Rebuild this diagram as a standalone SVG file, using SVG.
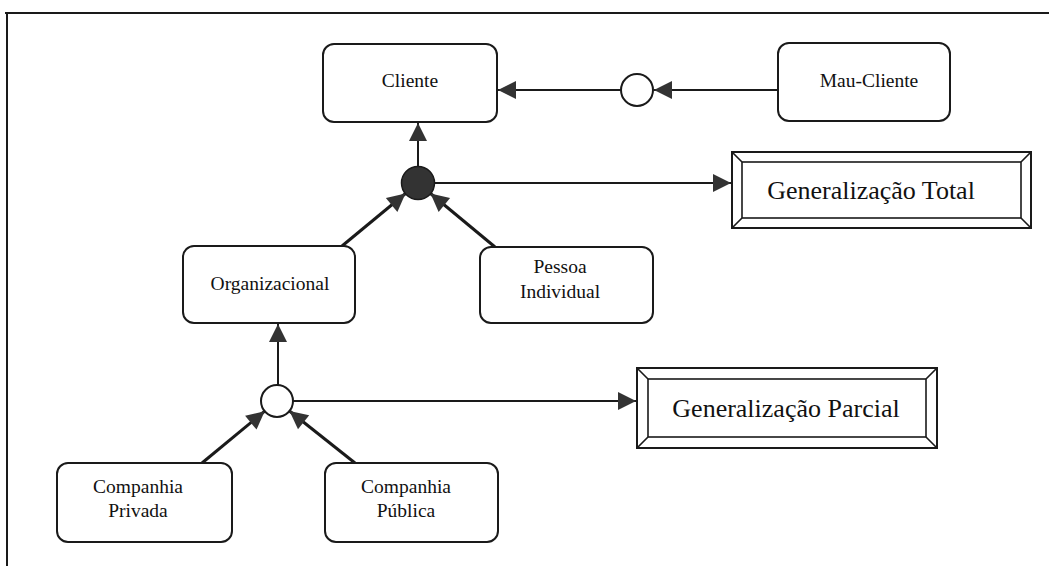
<svg xmlns="http://www.w3.org/2000/svg" width="1049" height="566" viewBox="0 0 1049 566">
  <style>
    .box { fill: #fff; stroke: #1a1a1a; stroke-width: 2; }
    .lbl { font-family: "Liberation Serif", "Times New Roman", serif; font-size: 19.5px; fill: #111; text-anchor: middle; }
    .big { font-family: "Liberation Serif", "Times New Roman", serif; font-size: 26px; fill: #111; text-anchor: middle; }
    .frame { fill: none; stroke: #1a1a1a; stroke-width: 2; }
    .edge { fill: none; stroke: #1a1a1a; stroke-width: 2; marker-end: url(#head); }
    .edge.thick { stroke-width: 3; }
    .bevel { fill: #fff; stroke: #1a1a1a; stroke-width: 2; }
    .bevel-in { fill: none; stroke: #1a1a1a; stroke-width: 1.6; }
  </style>
  <defs>
    <marker id="head" markerUnits="userSpaceOnUse" markerWidth="20" markerHeight="20" viewBox="0 0 20 20" refX="19" refY="10" orient="auto">
      <path d="M1,1 L19,10 L1,19 Z" fill="#333"/>
    </marker>
  </defs>

  <rect width="1049" height="566" fill="#fff"/>

  <!-- page frame: top and left rules -->
  <path class="frame" d="M5,13 H1049 M7,13 V566"/>

  <!-- connectors -->
  <g id="connectors">
    <line class="edge" x1="778" y1="90" x2="654" y2="90"/>
    <line class="edge" x1="621" y1="90" x2="498" y2="90"/>
    <line class="edge" x1="418" y1="166" x2="418" y2="123"/>
    <line class="edge" x1="435" y1="183" x2="731" y2="183"/>
    <line class="edge thick" x1="342" y1="246" x2="405.5" y2="193.5"/>
    <line class="edge thick" x1="495" y1="247" x2="430.5" y2="193.5"/>
    <line class="edge" x1="278" y1="385" x2="278" y2="324"/>
    <line class="edge" x1="293" y1="401" x2="636" y2="401"/>
    <line class="edge thick" x1="202" y1="463" x2="264.7" y2="411.2"/>
    <line class="edge thick" x1="355" y1="463" x2="289.5" y2="411"/>
  </g>

  <!-- junction circles -->
  <g id="junction-exclusive">
    <circle cx="637" cy="90" r="16" fill="#fff" stroke="#1a1a1a" stroke-width="2"/>
  </g>
  <g id="junction-total">
    <circle cx="418" cy="183" r="16.5" fill="#333" stroke="#1a1a1a" stroke-width="1.5"/>
  </g>
  <g id="junction-partial">
    <circle cx="277" cy="401" r="16" fill="#fff" stroke="#1a1a1a" stroke-width="2"/>
  </g>

  <!-- entity nodes -->
  <g id="cliente">
    <rect class="box" x="323" y="44" width="174" height="78" rx="11"/>
    <text class="lbl" x="410" y="87">Cliente</text>
  </g>
  <g id="mau-cliente">
    <rect class="box" x="778" y="43" width="172" height="78" rx="11"/>
    <text class="lbl" x="869" y="87">Mau-Cliente</text>
  </g>
  <g id="organizacional">
    <rect class="box" x="183" y="246" width="172" height="77" rx="11"/>
    <text class="lbl" x="270" y="290">Organizacional</text>
  </g>
  <g id="pessoa-individual">
    <rect class="box" x="480" y="247" width="173" height="76" rx="11"/>
    <text class="lbl" x="560" y="273">Pessoa</text>
    <text class="lbl" x="560" y="298">Individual</text>
  </g>
  <g id="companhia-privada">
    <rect class="box" x="57" y="463" width="175" height="79" rx="11"/>
    <text class="lbl" x="138" y="493">Companhia</text>
    <text class="lbl" x="138" y="517">Privada</text>
  </g>
  <g id="companhia-publica">
    <rect class="box" x="325" y="463" width="173" height="79" rx="11"/>
    <text class="lbl" x="406" y="493">Companhia</text>
    <text class="lbl" x="406" y="517">Pública</text>
  </g>

  <!-- bevelled label panels -->
  <g id="generalizacao-total">
    <rect class="bevel" x="732" y="152" width="299" height="76"/>
    <rect class="bevel-in" x="742" y="162" width="279" height="56"/>
    <path class="bevel-in" d="M732,152 L742,162 M1031,152 L1021,162 M732,228 L742,218 M1031,228 L1021,218"/>
    <text class="big" x="871" y="199">Generalização Total</text>
  </g>
  <g id="generalizacao-parcial">
    <rect class="bevel" x="637" y="368" width="300" height="80"/>
    <rect class="bevel-in" x="648" y="379" width="278" height="58"/>
    <path class="bevel-in" d="M637,368 L648,379 M937,368 L926,379 M637,448 L648,437 M937,448 L926,437"/>
    <text class="big" x="786" y="417">Generalização Parcial</text>
  </g>
</svg>
